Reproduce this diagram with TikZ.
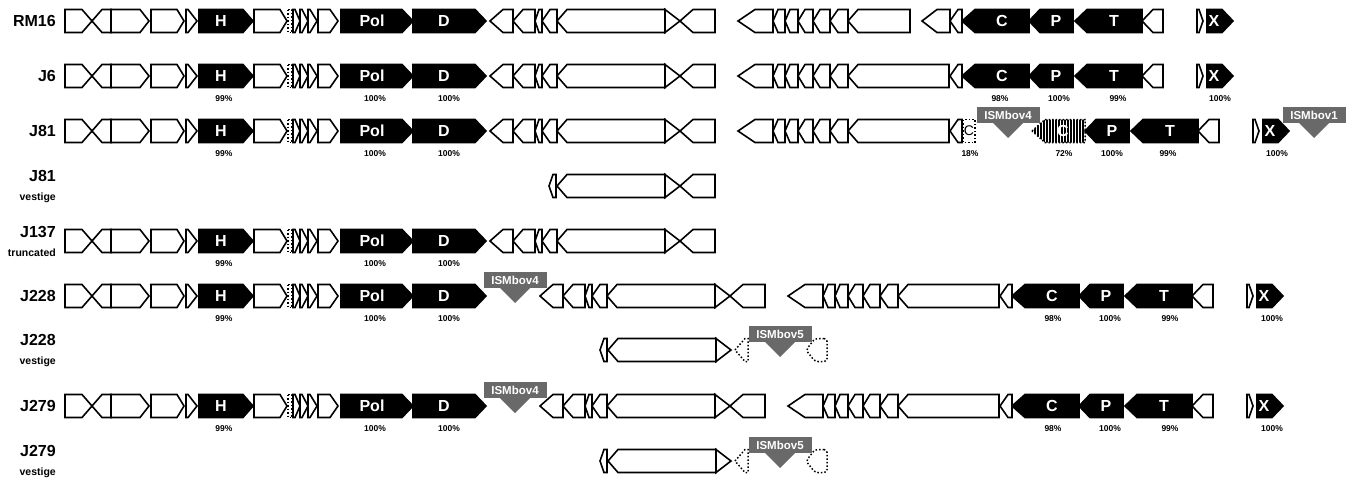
\documentclass[tikz,border=0pt]{standalone}
\usepackage{fontspec}
\setmainfont{Liberation Sans}
\usetikzlibrary{patterns.meta}

\definecolor{ismgray}{RGB}{105,105,105}

\tikzset{
  gene/.style={draw=black, line width=1.6pt, fill=white, line join=miter},
  black gene/.style={gene, fill=black},
  dot gene/.style={draw=black, line width=1.5pt, dotted, fill=white},
  glab/.style={text=white, font=\fontsize{16}{16}\selectfont\bfseries, inner sep=0pt},
  rowlab/.style={anchor=east, font=\fontsize{16}{16}\selectfont\bfseries, inner sep=0pt},
  sublab/.style={anchor=east, font=\fontsize{10.5}{10.5}\selectfont\bfseries, inner sep=0pt},
  pct/.style={font=\fontsize{8.5}{8.5}\selectfont\bfseries, inner sep=0pt},
  ism/.style={fill=ismgray, text=white, minimum width=63pt, minimum height=16pt,
    inner sep=0pt, font=\fontsize{11.5}{11.5}\selectfont\bfseries}
}

% gene arrows: forward {start}{body end}{tip}, reverse {tip}{body start}{end}
\newcommand{\hh}{11.5}
\newcommand{\fgene}[4][gene]{\draw[#1] (#2,-\hh) -- (#3,-\hh) -- (#4,0) -- (#3,\hh) -- (#2,\hh) -- cycle;}
\newcommand{\rgene}[4][gene]{\draw[#1] (#2,0) -- (#3,-\hh) -- (#4,-\hh) -- (#4,\hh) -- (#3,\hh) -- cycle;}
\newcommand{\glabel}[2]{\node[glab] at (#1,0) {#2};}
\newcommand{\ismlabel}[3]{%
  \fill[ismgray] (#1-15,-8) -- (#1+15,-8) -- (#1,7) -- cycle;
  \node[ism] (#2) at (#1,-16) {#3};}

% left part
\newcommand{\blockA}{%
  \fgene{65}{82}{92}
  \rgene{92}{102}{111}
  \fgene{111}{140}{149}
  \fgene{151}{177}{184}
  \fgene{186}{188}{197}
  \fgene[black gene]{199}{243}{253} \glabel{221}{H}
  \fgene{254}{280}{287}
  \draw[dot gene] (288,-\hh) rectangle (292,\hh);
  \fgene{293}{295}{300}
  \fgene{300}{302}{308}
  \fgene{308}{310}{317}
  \fgene{318}{330}{338}
  \fgene[black gene]{341}{402}{413} \glabel{372}{Pol}
  \fgene[black gene]{413}{475}{486} \glabel{444}{D}
}
% middle part
\newcommand{\blockB}{%
  \rgene{490}{503}{513}
  \rgene{513}{523}{535}
  \rgene{535}{539}{542}
  \rgene{542}{550}{557}
  \rgene{557}{567}{665}
  \fgene{665}{665}{680}
  \rgene{680}{693}{715}
}
\newcommand{\blockC}[1]{%
  \rgene{738}{755}{773}
  \rgene{773}{778}{785}
  \rgene{785}{790}{798}
  \rgene{798}{805}{813}
  \rgene{813}{820}{830}
  \rgene{830}{838}{848}
  \rgene{848}{858}{#1}
}
% right part
\newcommand{\blockD}{%
  \rgene{950}{958}{962}
  \rgene[black gene]{962}{975}{1029} \glabel{1002}{C}
}
\newcommand{\blockE}{%
  \rgene[black gene]{1029}{1040}{1073} \glabel{1056}{P}
  \rgene[black gene]{1075}{1087}{1142} \glabel{1114}{T}
  \rgene{1142}{1153}{1163}
  \fgene{1197}{1199}{1203}
  \fgene[black gene]{1207}{1222}{1233} \glabel{1214}{X}
}
\newcommand{\vestige}{%
  \rgene{549}{553}{556}
  \rgene{557}{567}{665}
  \fgene{665}{665}{680}
}

\begin{document}
\begin{tikzpicture}[x=1pt, y=-1pt]
\useasboundingbox (0,0) rectangle (1352,485);

% RM16
\begin{scope}[shift={(0,21)}]
  \node[rowlab] (rm16) at (56,0) {RM16};
  \blockA \blockB \blockC{910}
  \rgene{922}{937}{950}
  \blockD \blockE
\end{scope}

% J6
\begin{scope}[shift={(0,76)}]
  \node[rowlab] (j6) at (56,0) {J6};
  \blockA \blockB \blockC{949} \blockD \blockE
  \foreach \x/\t in {224/99\%, 375/100\%, 449/100\%, 1000/98\%, 1059/100\%, 1118/99\%, 1220/100\%}
    \node[pct] at (\x,23) {\t};
\end{scope}

% J81
\begin{scope}[shift={(0,131)}]
  \node[rowlab] (j81) at (56,0) {J81};
  \blockA \blockB \blockC{949}
  \rgene{950}{958}{962}
  \draw[dot gene] (963,-\hh) rectangle (975,\hh);
  \node[font=\fontsize{14}{14}\selectfont, inner sep=0pt] (cfrag) at (969,0) {C};
  \ismlabel{1008}{ism4}{ISMbov4}
  \fill[pattern={Lines[angle=90, distance=3pt, line width=1.5pt]}]
    (1032,0) -- (1045,-\hh) -- (1085,-\hh) -- (1085,\hh) -- (1045,\hh) -- cycle;
  \draw[dot gene, fill=none]
    (1032,0) -- (1045,-\hh) -- (1085,-\hh) -- (1085,\hh) -- (1045,\hh) -- cycle;
  \glabel{1063}{C}
  \begin{scope}[shift={(56,0)}]
    \blockE
  \end{scope}
  \ismlabel{1314}{ism1}{ISMbov1}
  \foreach \x/\t in {224/99\%, 375/100\%, 449/100\%, 970/18\%, 1064/72\%, 1112/100\%, 1168/99\%, 1277/100\%}
    \node[pct] at (\x,23) {\t};
\end{scope}

% J81 vestige
\begin{scope}[shift={(0,186)}]
  \node[rowlab] (j81v) at (56,-10) {J81};
  \node[sublab] (j81vs) at (56,12) {vestige};
  \vestige
  \rgene{680}{693}{715}
\end{scope}

% J137 truncated
\begin{scope}[shift={(0,241)}]
  \node[rowlab] (j137) at (56,-9) {J137};
  \node[sublab] (j137s) at (56,12) {truncated};
  \blockA \blockB
  \foreach \x/\t in {224/99\%, 375/100\%, 449/100\%}
    \node[pct] at (\x,23) {\t};
\end{scope}

% J228 and J279
\foreach \y/\n in {296/J228, 406/J279}{
\begin{scope}[shift={(0,\y)}]
  \node[rowlab] (row-\n) at (56,0) {\n};
  \blockA
  \ismlabel{515}{ism4-\n}{ISMbov4}
  \begin{scope}[shift={(50,0)}]
    \blockB \blockC{949} \blockD \blockE
  \end{scope}
  \foreach \x/\t in {224/99\%, 375/100\%, 449/100\%, 1053/98\%, 1110/100\%, 1170/99\%, 1272/100\%}
    \node[pct] at (\x,23) {\t};
\end{scope}
}

% J228 and J279 vestiges
\foreach \y/\n in {350/J228, 461/J279}{
\begin{scope}[shift={(0,\y)}]
  \node[rowlab] (vrow-\n) at (56,-10) {\n};
  \node[sublab] (vsub-\n) at (56,12) {vestige};
  \begin{scope}[shift={(51,0)}]
    \vestige
  \end{scope}
  \rgene[dot gene]{735}{745}{748}
  \ismlabel{780}{ism5-\n}{ISMbov5}
  \draw[dot gene, rounded corners=3pt] (827,-\hh) -- (815,-\hh) -- (806,0) -- (815,\hh) -- (827,\hh) -- cycle;
\end{scope}
}
\end{tikzpicture}
\end{document}
